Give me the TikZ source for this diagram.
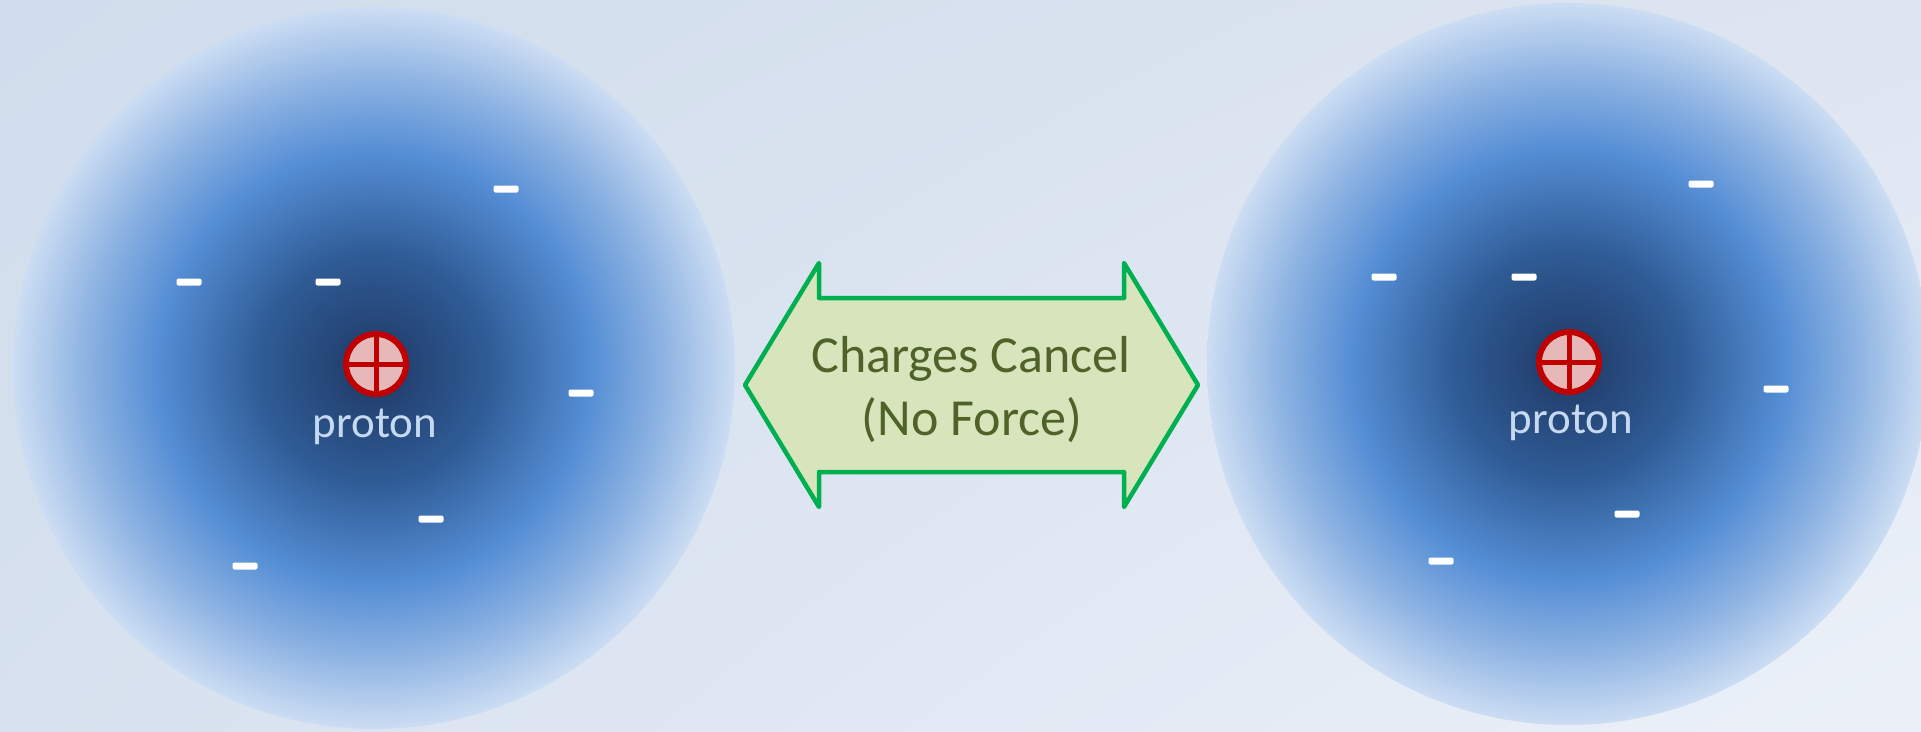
\documentclass[tikz,border=0pt]{standalone}
\usepackage{fontspec}
\setmainfont{Carlito}
\usetikzlibrary{positioning,shadings}

\definecolor{bgtl}{RGB}{208,221,236}
\definecolor{bgtr}{RGB}{222,229,241}
\definecolor{bgbl}{RGB}{215,225,239}
\definecolor{bgbr}{RGB}{236,241,249}
\definecolor{cloudcore}{RGB}{31,56,100}
\definecolor{clouddeep}{RGB}{47,92,150}
\definecolor{cloudmid}{RGB}{85,142,213}
\definecolor{cloudpale}{RGB}{141,179,226}
\definecolor{cloudrim}{RGB}{204,221,243}
\definecolor{protonred}{RGB}{192,0,0}
\definecolor{protonpink}{RGB}{230,185,184}
\definecolor{tagblue}{RGB}{198,217,241}
\definecolor{arrowgreen}{RGB}{0,176,80}
\definecolor{arrowfill}{RGB}{216,228,188}
\definecolor{msggreen}{RGB}{79,98,40}

\pgfdeclareradialshading{cloud}{\pgfpoint{0bp}{0bp}}{%
  color(0bp)=(cloudcore); color(8bp)=(clouddeep); color(15bp)=(cloudmid);
  color(20bp)=(cloudpale); color(25bp)=(cloudrim); color(50bp)=(cloudrim)}

\tikzset{
  proton/.style={circle, draw=protonred, fill=protonpink, line width=6pt,
    minimum size=60pt, inner sep=0pt},
  cross/.style={draw=protonred, line width=5pt},
  tag/.style={text=tagblue, font=\fontsize{45}{54}\selectfont, anchor=base, inner sep=0pt},
  electron/.style={rectangle, fill=white, rounded corners=2pt,
    minimum width=25pt, minimum height=7pt, inner sep=0pt},
  msg/.style={text=msggreen, font=\fontsize{52}{63}\selectfont, anchor=base, inner sep=0pt},
  bigarrow/.style={draw=arrowgreen, fill=arrowfill, line width=4.5pt, line join=round}
}

\begin{document}
\begin{tikzpicture}[x=1pt, y=-1pt]
    \useasboundingbox (0,0) rectangle (1921,731);
    \clip (0,0) rectangle (1921,731);
    \shade [upper left=bgtl, upper right=bgtr, lower left=bgbl, lower right=bgbr] (0,0) rectangle (1921,731);
    \shade [shading=cloud] (374,368) circle (361pt);
    \shade [shading=cloud] (1568,364) circle (361pt);

    \path [bigarrow] (745,385) -- (819,263) -- (819,298) -- (1124,298) -- (1124,263)
        -- (1198,385) -- (1124,507) -- (1124,472) -- (819,472) -- (819,507) -- cycle;
    \node [msg] at (971,372) (m1) {Charges Cancel};
    \node [msg] at (972,435) (m2) {(No Force)};

    \node [proton] at (376,364) (p1) {};
    \node [proton] at (1569,362) (p2) {};
    \path [cross] (p1.north) -- (p1.south);
    \path [cross] (p1.west) -- (p1.east);
    \path [cross] (p2.north) -- (p2.south);
    \path [cross] (p2.west) -- (p2.east);
    \node [tag] at (375,437) (t1) {proton};
    \node [tag] at (1571,433) (t2) {proton};

    \node [electron] at (506,189) (e1) {};
    \node [electron] at (189,282) (e2) {};
    \node [electron] at (328,282) (e3) {};
    \node [electron] at (581,393) (e4) {};
    \node [electron] at (431,519) (e5) {};
    \node [electron] at (245,566) (e6) {};
    \node [electron] at (1701,184) (e7) {};
    \node [electron] at (1384,277) (e8) {};
    \node [electron] at (1524,277) (e9) {};
    \node [electron] at (1776,389) (e10) {};
    \node [electron] at (1627,514) (e11) {};
    \node [electron] at (1441,561) (e12) {};
\end{tikzpicture}
\end{document}
